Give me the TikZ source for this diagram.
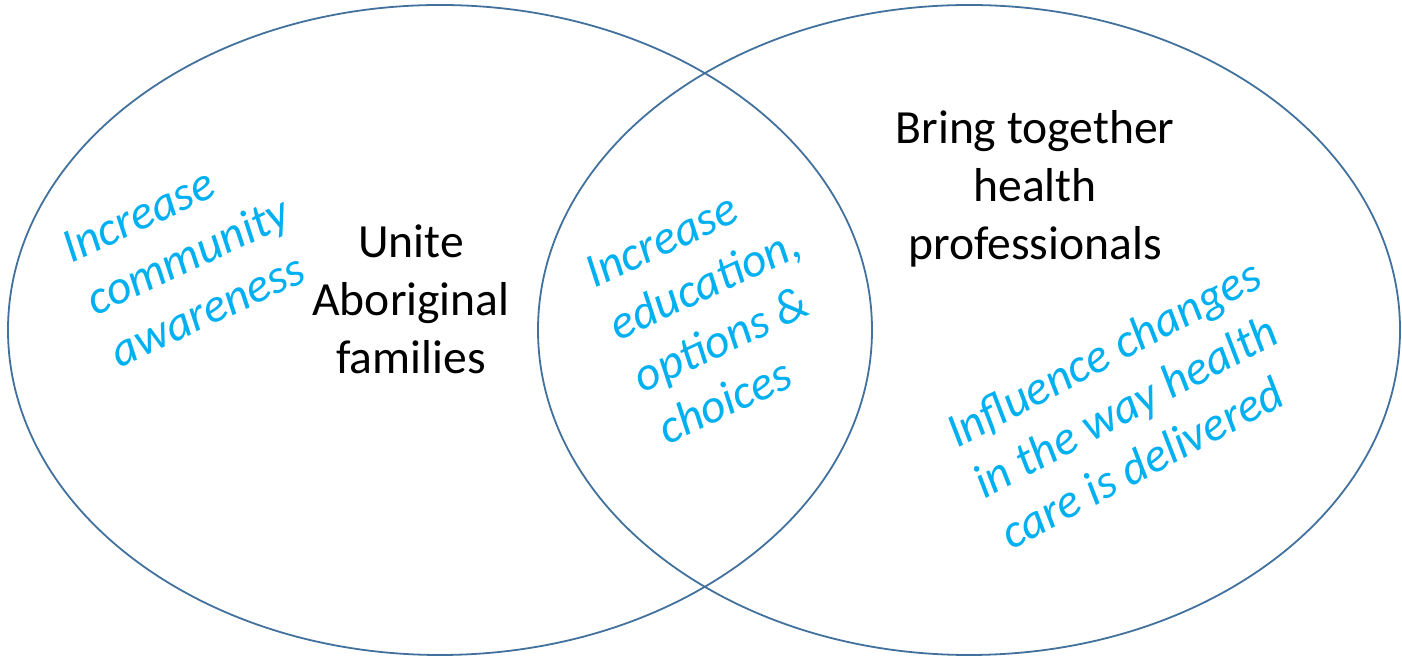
\documentclass[tikz,border=0pt]{standalone}
\usepackage{fontspec}
\setmainfont{Carlito}
\definecolor{ringcol}{HTML}{41719C}
\definecolor{bluetxt}{HTML}{00B0F0}
\newcommand{\leftlines}[1]{\begin{tabular}[t]{@{}l@{}}#1\end{tabular}}
\begin{document}
\begin{tikzpicture}[x=1pt,y=1pt,
  ring/.style={draw=ringcol,line width=1.8pt},
  maintxt/.style={align=center,inner sep=0pt,font=\fontsize{47.6}{58}\selectfont,text=black},
  bluelbl/.style={anchor=base west,inner sep=0pt,font=\fontsize{48}{57.5}\selectfont\itshape,text=bluetxt}]
\useasboundingbox (0,0) rectangle (1402,660);
\draw[ring] (440,330) ellipse [x radius=432, y radius=325];
\draw[ring] (969,330) ellipse [x radius=431, y radius=325];
\node[maintxt] (unite) at (411,361) {Unite\\Aboriginal\\families};
\node[maintxt] (bring) at (1035,471) {Bring together\\health\\professionals};
\node[bluelbl,rotate=25] (aware) at (71,396) {\leftlines{Increase\\community\\awareness}};
\node[bluelbl,rotate=25] (educ) at (594,371) {\leftlines{Increase\\education,\\options \&\\choices}};
\node[bluelbl,rotate=28] (infl) at (957,211) {\leftlines{Influence changes\\in the way health\\care is delivered}};
\end{tikzpicture}
\end{document}
